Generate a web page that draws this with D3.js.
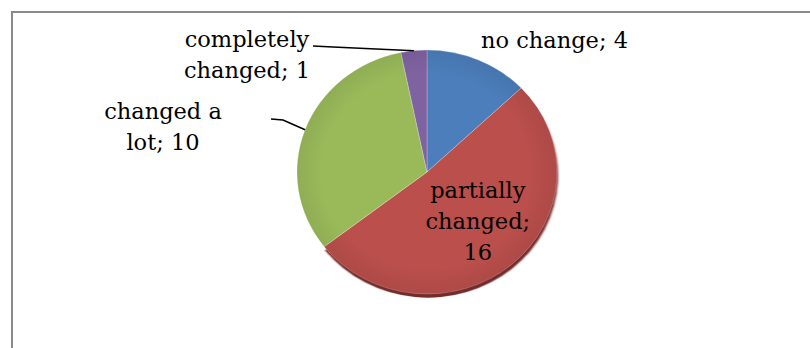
<!DOCTYPE html>
<html>
<head>
<meta charset="utf-8">
<script src="https://cdn.jsdelivr.net/npm/d3@7"></script>
<style>
  html, body { margin: 0; padding: 0; background: #fff; }
  svg { display: block; }
  text { font-family: "DejaVu Serif", serif; font-size: 22.5px; fill: #000; }
</style>
</head>
<body>
<svg id="chart" width="810" height="348"></svg>
<script>
// Survey answers: how much did things change?
const categories = ["no change", "partially changed", "changed a lot", "completely changed"];
const counts = [4, 16, 10, 1];
const colors = ["#4b7ebb", "#ba4f4c", "#9aba5a", "#7f63a1"];
const labelLines = [
  ["no change; 4"],
  ["partially", "changed;", "16"],
  ["changed a", "lot; 10"],
  ["completely", "changed; 1"]
];

const svg = d3.select("#chart");
const W = 810, H = 348;

// chart area frame (runs off the right and bottom edges)
svg.append("rect")
  .attr("x", 12).attr("y", 12)
  .attr("width", W + 20).attr("height", H + 20)
  .attr("fill", "#fff")
  .attr("stroke", "#8a8a8a")
  .attr("stroke-width", 2);

const cx = 427, cy = 172, R = 130, squash = 0.938;

const data = categories.map((c, i) => ({ name: c, value: counts[i], color: colors[i], lines: labelLines[i] }));

const pie = d3.pie().value(d => d.value).sort(null).startAngle(0).endAngle(2 * Math.PI);
const arcs = pie(data);
const arc = d3.arc().innerRadius(0).outerRadius(R);

// point on the (squashed) rim at a given angle and radius
const rimPoint = (a, r) => [cx + r * Math.sin(a), cy - r * Math.cos(a) * squash];

const defs = svg.append("defs");
defs.append("filter").attr("id", "soft")
  .append("feGaussianBlur").attr("stdDeviation", 0.8);

const shade = defs.append("radialGradient").attr("id", "shade")
  .attr("cx", "50%").attr("cy", "50%").attr("r", "50%");
shade.append("stop").attr("offset", "80%").attr("stop-color", "#000").attr("stop-opacity", 0);
shade.append("stop").attr("offset", "100%").attr("stop-color", "#000").attr("stop-opacity", 0.07);

const g = svg.append("g").attr("transform", `translate(${cx},${cy}) scale(1,${squash})`);

// depth rim under the lower edge of the big slice
g.append("path")
  .attr("d", arc(arcs[1]))
  .attr("transform", "translate(1,4)")
  .attr("fill", "#772b29")
  .attr("filter", "url(#soft)");

g.selectAll("path.slice")
  .data(arcs)
  .join("path")
  .attr("class", "slice")
  .attr("d", arc)
  .attr("fill", d => d.data.color)
  .attr("stroke", "rgba(255,255,255,0.35)")
  .attr("stroke-width", 0.7);

g.append("circle").attr("r", R).attr("fill", "url(#shade)");

// labels
const lineH = 31;

// outside labels with leader lines
function outsideLabel(d, x, baseline, anchorPts) {
  const t = svg.append("text").attr("text-anchor", "middle");
  d.data.lines.forEach((s, i) => {
    t.append("tspan").attr("x", x).attr("y", baseline + i * lineH).text(s);
  });
  if (anchorPts) {
    const mid = (d.startAngle + d.endAngle) / 2;
    const pts = anchorPts.concat([rimPoint(mid, R)]);
    svg.append("path")
      .attr("d", d3.line()(pts))
      .attr("fill", "none")
      .attr("stroke", "#000")
      .attr("stroke-width", 1.6);
  }
}

// no change
svg.append("text").attr("x", 481).attr("y", 48).attr("text-anchor", "start").text(arcs[0].data.lines[0]);

// completely changed
outsideLabel(arcs[3], 247, 47, [[313, 46], [333, 47]]);

// changed a lot
outsideLabel(arcs[2], 163, 119, [[271, 119], [283, 120]]);

// partially changed, inside the slice
{
  const d = arcs[1];
  const mid = (d.startAngle + d.endAngle) / 2;
  const [px, py] = rimPoint(mid, 0.6 * R);
  const t = svg.append("text").attr("text-anchor", "middle");
  d.data.lines.forEach((s, i) => {
    t.append("tspan").attr("x", px).attr("y", py - 30 + i * lineH).text(s);
  });
}
</script>
</body>
</html>
